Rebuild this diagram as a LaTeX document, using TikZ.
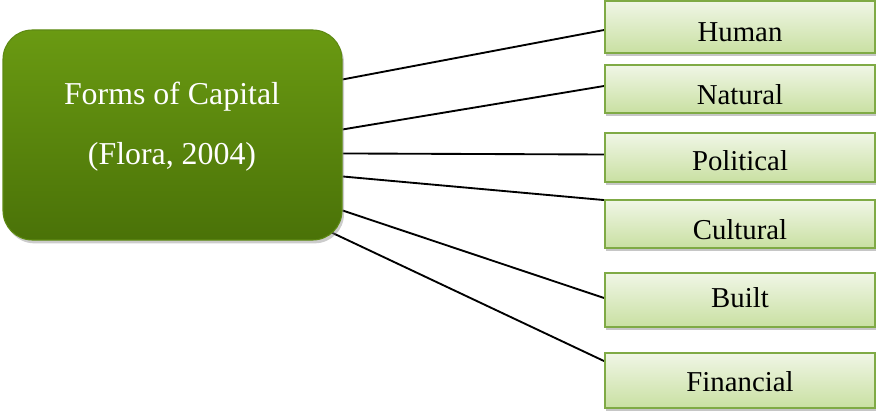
\documentclass[tikz,border=0pt]{standalone}
\usepackage{fontspec}
\setmainfont{Liberation Serif}
\usetikzlibrary{shadows,backgrounds,calc}

\definecolor{hubtop}{HTML}{6A9A12}
\definecolor{hubbottom}{HTML}{4A7208}
\definecolor{hubedge}{HTML}{5E8A14}
\definecolor{leaftop}{HTML}{F0F6E6}
\definecolor{leafbottom}{HTML}{C9E0A2}
\definecolor{leafedge}{HTML}{7FAA45}

\tikzset{
  hub/.style={draw=hubedge, line width=0.8pt, rounded corners=22pt,
    top color=hubtop, bottom color=hubbottom, text=white,
    minimum width=339*0.75pt, minimum height=210*0.75pt,
    drop shadow={opacity=0.4, shadow xshift=1.5pt, shadow yshift=-2.5pt},
    inner sep=0pt},
  leaf/.style={draw=leafedge, line width=1.4pt,
    top color=leaftop, bottom color=leafbottom, text=black,
    minimum width=270*0.75pt, inner sep=0pt,
    drop shadow={opacity=0.45, shadow xshift=1pt, shadow yshift=-2pt},
    font=\fontsize{21.6}{24}\selectfont},
  spoke/.style={draw=black, line width=1.4pt}
}

\begin{document}
\begin{tikzpicture}[x=0.75pt, y=-0.75pt]
  \useasboundingbox (0,0) rectangle (877,413);

  % central node
  \node[hub] (capital) at (172.5,135) {};
  \node[text=white, font=\fontsize{23.9}{28}\selectfont] (title) at (172,97) {Forms of Capital};
  \node[text=white, font=\fontsize{23.9}{28}\selectfont] (source) at (172,157) {(Flora, 2004)};

  % the six forms
  \node[leaf, minimum height=52*0.75pt] (human) at (740,27) {};
  \node (humant) at (740,32) [font=\fontsize{21.6}{24}\selectfont] {Human};
  \node[leaf, minimum height=48*0.75pt] (natural) at (740,89) {};
  \node (naturalt) at (740,95) [font=\fontsize{21.6}{24}\selectfont] {Natural};
  \node[leaf, minimum height=49*0.75pt] (political) at (740,157.5) {};
  \node (politicalt) at (740,161) [font=\fontsize{21.6}{24}\selectfont] {Political};
  \node[leaf, minimum height=48*0.75pt] (cultural) at (740,224) {};
  \node (culturalt) at (740,230) [font=\fontsize{21.6}{24}\selectfont] {Cultural};
  \node[leaf, minimum height=54*0.75pt] (built) at (740,300) {};
  \node (builtt) at (740,298) [font=\fontsize{21.6}{24}\selectfont] {Built};
  \node[leaf, minimum height=55*0.75pt] (financial) at (740,380.5) {};
  \node (financialt) at (740,382) [font=\fontsize{21.6}{24}\selectfont] {Financial};

  % connectors from the centre to each form
  \coordinate (s1) at ($(capital.north east)+(0,-50*0.75pt)$);
  \coordinate (s2) at ($(capital.north east)+(0,-100*0.75pt)$);
  \coordinate (s3) at ($(capital.north east)+(0,-124*0.75pt)$);
  \coordinate (s4) at ($(capital.north east)+(0,-147*0.75pt)$);
  \coordinate (s5) at ($(capital.north east)+(0,-181*0.75pt)$);
  \coordinate (s6) at (322,228);
  \begin{scope}[on background layer]
    \draw[spoke] (s1) -- ($(human.west)+(0,-3*0.75pt)$);
    \draw[spoke] (s2) -- ($(natural.west)+(0,3*0.75pt)$);
    \draw[spoke] (s3) -- ($(political.west)+(0,3*0.75pt)$);
    \draw[spoke] (s4) -- ($(cultural.north west)+(0,-1*0.75pt)$);
    \draw[spoke] (s5) -- ($(built.west)+(0,2*0.75pt)$);
    \draw[spoke] (s6) -- ($(financial.north west)+(0,-9*0.75pt)$);
  \end{scope}
\end{tikzpicture}
\end{document}
